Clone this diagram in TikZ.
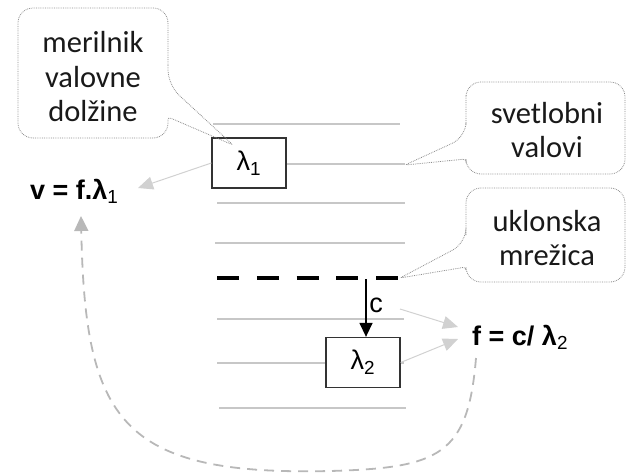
\documentclass[tikz,border=0pt]{standalone}
\usepackage{fontspec}
\setmainfont{Liberation Sans}
\newfontfamily\calib{Carlito}
\usetikzlibrary{arrows.meta,calc}
\begin{document}
\begin{tikzpicture}[x=1pt,y=-1pt,
  wave/.style={draw=black!22,line width=1.4pt},
  callout/.style={draw=black!45,densely dotted,line width=0.8pt},
  ctext/.style={font=\calib\fontsize{30.5}{34.5}\selectfont,align=center,text=black!90},
  lbox/.style={draw=black!80,line width=1.3pt,minimum width=74pt,minimum height=50pt,inner sep=0pt,font=\fontsize{27}{30}\selectfont},
  formula/.style={font=\bfseries\fontsize{27}{30}\selectfont,inner sep=0pt},
  garrow/.style={draw=black!18,line width=1pt,-{Triangle[length=15pt,width=13pt]},color=black!18},
  carrow/.style={draw=black,line width=1.4pt,-{Triangle[length=14pt,width=13pt]}},
  grating/.style={draw=black,line width=4pt,dash pattern=on 22pt off 17.75pt},
  loop/.style={draw=black!28,line width=1.8pt,dash pattern=on 10pt off 7pt,-{Triangle[length=15pt,width=14pt]},color=black!28}]
\useasboundingbox (0,0) rectangle (627,474);

% wave lines
\draw[wave] (213,124) -- (400,124);
\draw[wave] (286,164) -- (405,164);
\draw[wave] (217,203) -- (405,203);
\draw[wave] (215,243) -- (405,243);
\draw[wave] (217,319) -- (404,319);
\draw[wave] (217,363) -- (326,363);
\draw[wave] (400,363) -- (404,363);
\draw[wave] (219,408) -- (406,408);

% grating
\coordinate (gs) at (217,278);
\coordinate (ge) at (398,278);
\draw[grating] (gs) -- (ge);

% boxes
\node[lbox,fill=white] (n1) at (249,163) {λ\textsubscript{1}\hspace{10pt}};
\node[lbox,fill=white] (n2) at (363,362.5) {λ\textsubscript{2}\hspace{10pt}};

% formulas
\node[formula,anchor=base west] (vf) at (30,199) {v = f.λ\textsubscript{\mdseries 1}};
\node[formula,anchor=base west] (ff) at (472,345) {f = c/ λ\textsubscript{\mdseries 2}};

% c arrow
\coordinate (g) at (366,279);
\draw[carrow] (g) -- (g |- n2.north);
\node[font=\fontsize{27}{30}\selectfont,inner sep=0pt] (clab) at (376,305) {c};

% gray arrows
\coordinate (t1) at (458,327);
\coordinate (t2) at (458,339);
\coordinate (t0) at (138,188);
\coordinate (s1) at (400,309);
\draw[garrow] (s1) -- (t1);
\draw[garrow] (n2.east) -- (t2);
\draw[garrow] (n1.west) -- (t0);

% dashed loop
\coordinate (cs) at (476,358);
\coordinate (cm) at (330,471);
\coordinate (ce) at (81,216);
\draw[loop] (cs) .. controls (468,455) and (440,468) .. (cm) .. controls (120,476) and (85,420) .. (ce);

% callouts
\draw[callout,rounded corners=15pt] (168,50) -- (168,85) [rounded corners=3pt] -- (233,145) -- (168,117) [rounded corners=15pt] -- (168,138) -- (18,138) -- (18,8) -- (168,8) -- cycle;
\node[ctext] (t_mer) at (93,77) {merilnik\\valovne\\dolžine};

\draw[callout,rounded corners=15pt] (466,110) -- (466,137) [rounded corners=3pt] -- (405,165) -- (466,159) [rounded corners=15pt] -- (466,174) -- (625,174) -- (625,82) -- (466,82) -- cycle;
\node[ctext] (t_sv) at (547,130) {svetlobni\\valovi};

\draw[callout,rounded corners=15pt] (466,220) -- (466,243) [rounded corners=3pt] -- (400,278) -- (466,267) [rounded corners=15pt] -- (466,282) -- (625,282) -- (625,188) -- (466,188) -- cycle;
\node[ctext] (t_uk) at (547,238) {uklonska\\mrežica};
\end{tikzpicture}
\end{document}
